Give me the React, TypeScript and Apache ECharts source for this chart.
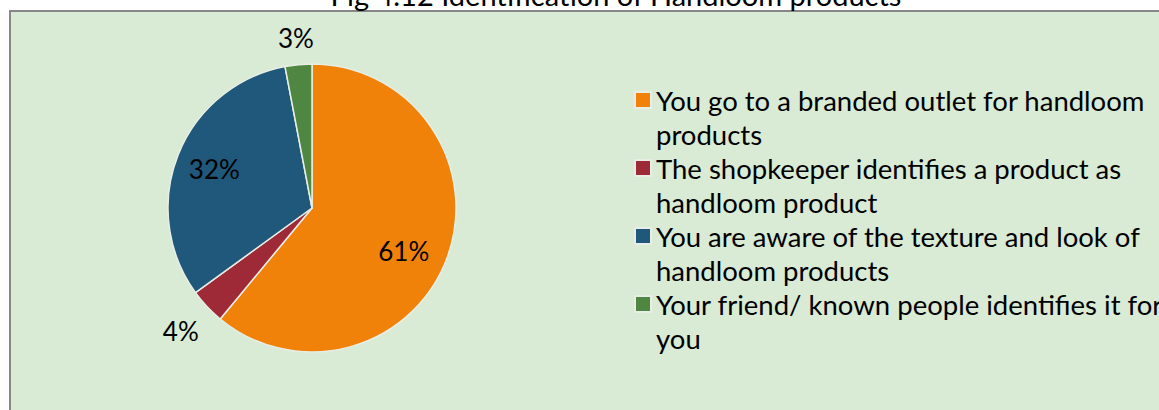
import React, { useEffect, useRef } from "react";
import * as echarts from "echarts";

const titleText = "Fig 4.12 Identification of Handloom products";

const categoryLines: string[][] = [
  ["You go to a branded outlet for handloom", "products"],
  ["The shopkeeper identifies a product as", "handloom product"],
  ["You are aware of the texture and look of", "handloom products"],
  ["Your friend/ known people identifies it for", "you"],
];
const categories = categoryLines.map((l) => l.join(" "));
const values = [61, 4, 32, 3];
const colors = ["#F0820A", "#9E2A37", "#1F587A", "#4E8642"];

const FONT = "Lato";
const PIE_R = 144;
const CENTER = [312, 208];
// label placement style: distance from the pie centre and a small nudge
const LABEL_RADIUS = [102, 177, 102, 168];
const LABEL_NUDGE = [[-7, 7], [0, 0], [0, 0], [0, 0]];

export default function App() {
  const ref = useRef<HTMLDivElement>(null);
  useEffect(() => {
    if (!ref.current) return;
    const chart = echarts.init(ref.current, undefined, { renderer: "svg" });
    const wrapMap: Record<string, string> = {};
    // a blank first line keeps the marker level with the first visible line
    categories.forEach((c, i) => (wrapMap[c] = " \n" + categoryLines[i].join("\n")));

    const data = categories.map((name, i) => ({
      name,
      value: values[i],
      itemStyle: { color: colors[i] },
    }));

    const overlaySeries = categories.map((_, k) => ({
      type: "pie",
      silent: true,
      center: CENTER,
      radius: [LABEL_RADIUS[k] - 20, LABEL_RADIUS[k] + 20],
      startAngle: 90,
      clockwise: true,
      avoidLabelOverlap: false,
      z: 5,
      itemStyle: { color: "rgba(0,0,0,0)", borderWidth: 0 },
      emphasis: { disabled: true },
      labelLine: { show: false },
      data: categories.map((name, i) => ({
        name,
        value: values[i],
        itemStyle: { color: "rgba(0,0,0,0)" },
        label: {
          show: i === k,
          position: "inside",
          formatter: "{c}%",
          offset: LABEL_NUDGE[k],
          fontFamily: FONT,
          fontSize: 26,
          color: "#000",
        },
      })),
    }));

    chart.setOption({
      animation: false,
      backgroundColor: "#ffffff",
      title: {
        text: titleText,
        left: "center",
        top: -25,
        textStyle: { fontFamily: FONT, fontSize: 29, fontWeight: "normal", color: "#000" },
      },
      graphic: [
        {
          type: "rect",
          left: 9,
          top: 10,
          silent: true,
          z: -10,
          shape: { x: 0, y: 0, width: 1400, height: 600 },
          style: { fill: "#D9EAD5", stroke: "#878787", lineWidth: 2 },
        },
      ],
      legend: {
        orient: "vertical",
        left: 634,
        top: 49,
        height: 2000,
        padding: 0,
        itemWidth: 16,
        itemHeight: 16,
        itemGap: -34,
        icon: "rect",
        data: categories,
        selectedMode: false,
        formatter: (name: string) => wrapMap[name] || name,
        textStyle: {
          fontFamily: FONT,
          fontSize: 27.5,
          lineHeight: 34,
          color: "#000",
          padding: [0, 0, 0, 0],
        },
      },
      series: [
        {
          type: "pie",
          center: CENTER,
          radius: [0, PIE_R],
          startAngle: 90,
          clockwise: true,
          label: { show: false },
          labelLine: { show: false },
          itemStyle: { borderColor: "#E8EEE6", borderWidth: 1.5 },
          data,
        },
        ...overlaySeries,
      ],
    });
    return () => chart.dispose();
  }, []);
  return (
    <div style={{ position: "absolute", left: 0, top: 0, width: 1159, height: 410, overflow: "hidden" }}>
      <div ref={ref} style={{ width: 1232, height: 410 }} />
    </div>
  );
}
